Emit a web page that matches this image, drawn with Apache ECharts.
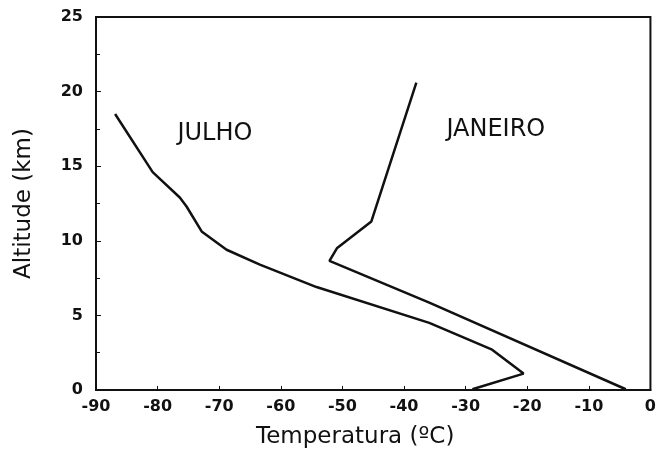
<!DOCTYPE html>
<html>
<head>
<meta charset="utf-8">
<script src="https://cdn.jsdelivr.net/npm/echarts@6/dist/echarts.min.js"></script>
<style>
html,body{margin:0;padding:0;background:#fff;}
#c{width:659px;height:460px;}
</style>
</head>
<body>
<div id="c"></div>
<script>
// Data (temperature °C, altitude km)
const julhoTemp = [-86.9, -80.8, -76.4, -75.3, -72.8, -68.8, -63.4, -54.2, -35.9, -25.7, -20.6, -28.9];
const julhoAlt  = [18.5, 14.6, 12.9, 12.3, 10.6, 9.4, 8.4, 6.9, 4.5, 2.7, 1.1, 0.05];
const janeiroTemp = [-38.0, -45.3, -50.9, -52.1, -35.9, -4.0];
const janeiroAlt  = [20.6, 11.3, 9.5, 8.65, 5.85, 0.05];
const labelTexts = ['JULHO', 'JANEIRO'];
const labelTemp = [-70.7, -25.1];
const labelAlt = [17.2, 17.45];
const xTicks = [-90, -80, -70, -60, -50, -40, -30, -20, -10, 0];
const yTicks = [0, 5, 10, 15, 20, 25];

const toPairs = (xs, ys) => xs.map((x, i) => [x, ys[i]]);
const font = 'DejaVu Sans';

const chart = echarts.init(document.getElementById('c'), null, {renderer: 'canvas'});
chart.setOption({
  animation: false,
  backgroundColor: '#fff',
  grid: {left: 96, right: 8, top: 17, bottom: 70, show: true, borderColor: '#111', borderWidth: 2, backgroundColor: 'transparent'},
  xAxis: {
    type: 'value', min: xTicks[0], max: xTicks[xTicks.length - 1], interval: 10,
    name: 'Temperatura (ºC)', nameLocation: 'middle', nameGap: 36,
    nameTextStyle: {fontFamily: font, fontSize: 23, color: '#111', padding: [0, 36, 0, 0]},
    axisLine: {show: true, onZero: false, lineStyle: {color: '#111', width: 2}},
    axisTick: {show: true, inside: true, length: 4, lineStyle: {color: '#111'}},
    axisLabel: {fontFamily: font, fontWeight: 'bold', fontSize: 16, color: '#111', margin: 9},
    splitLine: {show: false}
  },
  yAxis: {
    type: 'value', min: yTicks[0], max: yTicks[yTicks.length - 1], interval: 5,
    name: 'Altitude (km)', nameLocation: 'middle', nameGap: 60,
    nameTextStyle: {fontFamily: font, fontSize: 23, color: '#111'},
    axisLine: {show: true, onZero: false, lineStyle: {color: '#111', width: 2}},
    axisTick: {show: true, inside: true, length: 5, lineStyle: {color: '#111'}},
    minorTick: {show: true, splitNumber: 2, length: 4, lineStyle: {color: '#111'}},
    axisLabel: {fontFamily: font, fontWeight: 'bold', fontSize: 16, color: '#111', margin: 13},
    splitLine: {show: false}
  },
  series: [
    {
      name: 'Julho', type: 'line', data: toPairs(julhoTemp, julhoAlt),
      showSymbol: false, symbol: 'none', smooth: false,
      lineStyle: {color: '#111', width: 2.5}
    },
    {
      name: 'Janeiro', type: 'line', data: toPairs(janeiroTemp, janeiroAlt),
      showSymbol: false, symbol: 'none', smooth: false,
      lineStyle: {color: '#111', width: 2.5}
    },
    {
      name: 'labels', type: 'scatter', symbolSize: 0, silent: true,
      itemStyle: {opacity: 1, color: '#111'},
      data: labelTexts.map((t, i) => ({value: [labelTemp[i], labelAlt[i]], name: t})),
      label: {show: true, position: 'inside', formatter: p => p.name,
        fontFamily: font, fontSize: 24, color: '#111', opacity: 1}
    }
  ]
});
</script>
</body>
</html>
